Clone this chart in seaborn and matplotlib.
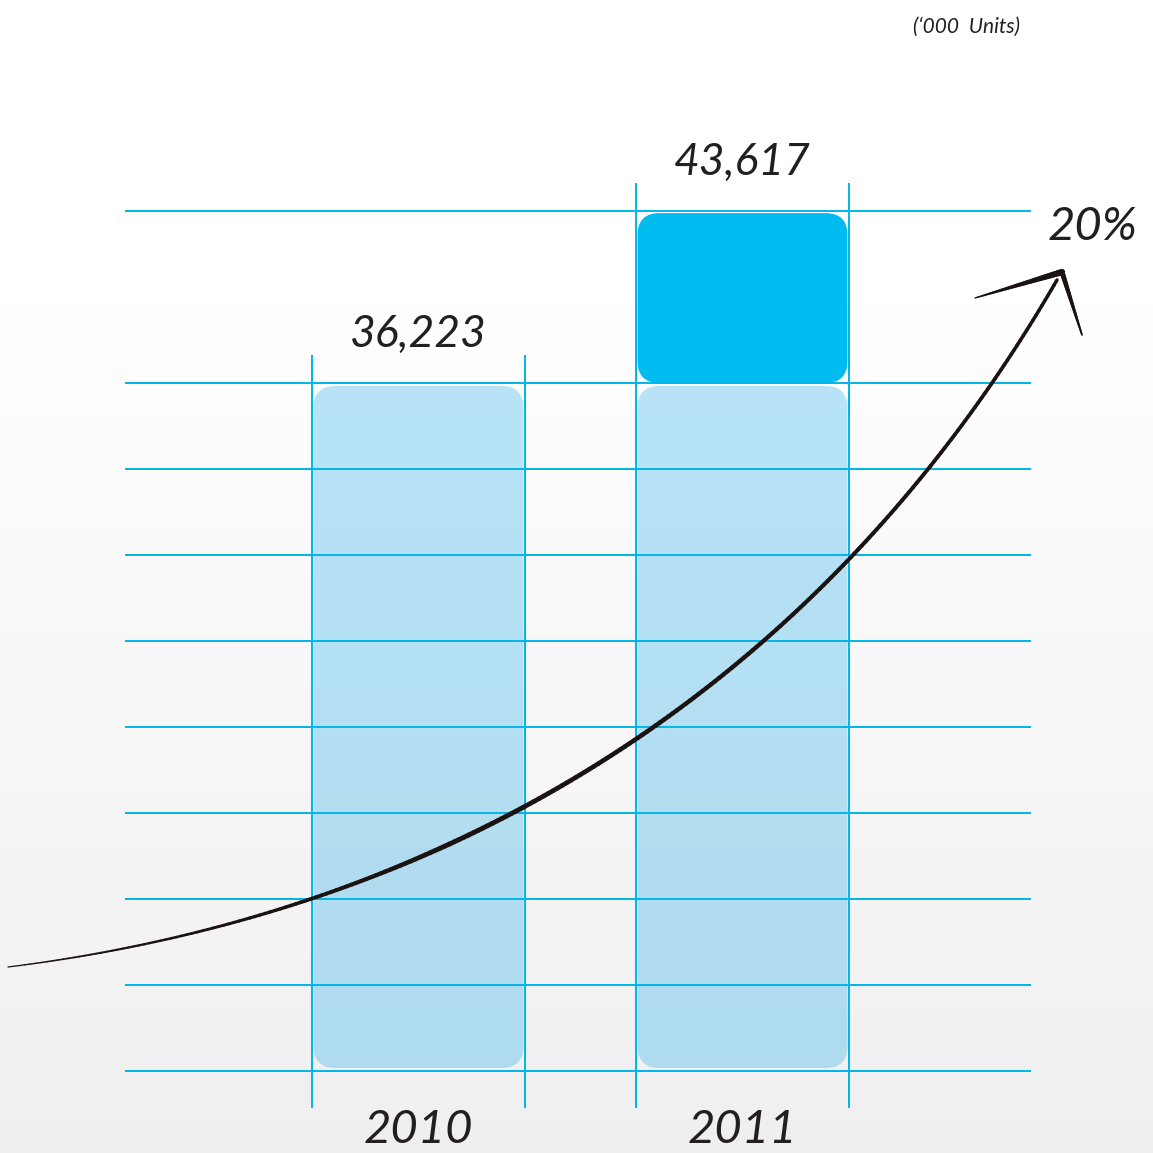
import matplotlib
matplotlib.use("Agg")
import matplotlib.pyplot as plt
import numpy as np
import pandas as pd
import seaborn as sns
from matplotlib.collections import LineCollection
from matplotlib.patches import FancyBboxPatch

# data
years = ["2010", "2011"]
units = [36223, 43617]          # '000 units
value_labels = ["36,223", "43,617"]
growth_label = "20%"
unit_note = "(\u2018000  Units)"

INK = "#231f20"
LINE = "#00b5e9"
DARK = "#00bbef"
LIGHT = "#00a0e6"

sns.set_theme(style="white")
plt.rcParams["font.family"] = ["Lato", "DejaVu Sans"]
hand = dict(style="italic", weight="normal", color=INK)

W = H = 1153
fig = plt.figure(figsize=(W / 100, H / 100), dpi=100)

# soft white-to-grey page background
bg = fig.add_axes([0, 0, 1, 1], zorder=0)
rows = np.arange(H)
shade = 1 - 0.065 * np.clip((rows - 250) / (H - 250), 0, 1)
bg.imshow(np.repeat(shade[:, None], 2, axis=1), cmap="gray", vmin=0, vmax=1,
          aspect="auto", extent=[0, 1, 0, 1])
bg.axis("off")

ax = fig.add_axes([0, 0, 1, 1], zorder=1)
ax.set_facecolor("none")

df = pd.DataFrame({"year": years, "units": units})
sns.barplot(data=df, x="year", y="units", width=0.66, color=DARK, ax=ax)

# truncated scale: one grid step is half of the year-on-year increase
step = (units[1] - units[0]) / 2
base = units[0] - 8 * step
ax.set_xlim(-1.2917, 2.267)
ax.set_ylim(base - 0.9535 * step, base + 12.453 * step)
ax.axis("off")

fig.canvas.draw()
ppx = ax.transData.transform((1, 0))[0] - ax.transData.transform((0, 0))[0]
ppy = ax.transData.transform((0, 1))[1] - ax.transData.transform((0, 0))[1]
aspect = ppx / ppy
r = 22 / ppx

bars = list(ax.patches)
for i, p in enumerate(bars):
    x0, w, top = p.get_x(), p.get_width(), p.get_height()
    p.remove()
    level = min(top, units[0])
    ax.add_patch(FancyBboxPatch(
        (x0 + 0.006, base + 0.035 * step), w - 0.012, level - base - 0.07 * step,
        boxstyle=f"round,pad=0,rounding_size={r}", mutation_aspect=aspect,
        facecolor=LIGHT, alpha=0.27, edgecolor="none", zorder=2))
    if top > units[0]:
        ax.add_patch(FancyBboxPatch(
            (x0 + 0.006, units[0]), w - 0.012, top - units[0] - 0.025 * step,
            boxstyle=f"round,pad=0,rounding_size={r}", mutation_aspect=aspect,
            facecolor=DARK, edgecolor="none", zorder=2))
    ax.vlines([x0, x0 + w], base - 0.43 * step, top + 0.32 * step,
              color=LINE, lw=1.4, zorder=4)
    cx = x0 + w / 2
    ax.text(cx, top + 0.56 * step, value_labels[i], ha="center", va="center",
            fontsize=32, **hand)
    ax.text(cx, base - 0.69 * step, years[i], ha="center", va="center",
            fontsize=34, **hand)

grid = base + step * np.r_[0:9, 10]
ax.hlines(grid, -0.906, 1.890, color=LINE, lw=1.4, zorder=4)

ax.text(0.948, 0.803, growth_label, transform=ax.transAxes, ha="center",
        va="center", fontsize=34, **hand)
ax.text(0.838, 0.977, unit_note, transform=ax.transAxes, ha="center",
        va="center", fontsize=15, **hand)


# hand-drawn growth arrow (figure pixel space -> axes fraction)
def px(pts):
    pts = np.asarray(pts, dtype=float)
    return np.column_stack([pts[:, 0] / W, 1 - pts[:, 1] / H])


def stroke(pts, widths):
    segs = np.stack([pts[:-1], pts[1:]], axis=1)
    lc = LineCollection(segs, linewidths=widths, colors="#1a1311",
                        capstyle="round", transform=ax.transAxes, zorder=5)
    ax.add_collection(lc)


ctrl = px([(8, 967), (450, 912), (820, 690), (1057, 280)])
t = np.linspace(0, 1, 240)[:, None]
curve = ((1 - t) ** 3 * ctrl[0] + 3 * (1 - t) ** 2 * t * ctrl[1]
         + 3 * (1 - t) * t ** 2 * ctrl[2] + t ** 3 * ctrl[3])
tm = t[:-1, 0]
stroke(curve, 0.9 + 2.6 * np.minimum(tm / 0.35, 1)
       - 1.0 * np.clip((tm - 0.35) / 0.65, 0, 1))

s = np.linspace(0, 1, 40)[:, None]
left = px([(975, 298), (1062, 272)])
stroke(left[0] + s * (left[1] - left[0]), 1.0 + 3.6 * s[:-1, 0])
right = px([(1062, 272), (1082, 335)])
stroke(right[0] + s * (right[1] - right[0]), 3.6 - 2.4 * s[:-1, 0])

fig.savefig("out.png", dpi=100)
